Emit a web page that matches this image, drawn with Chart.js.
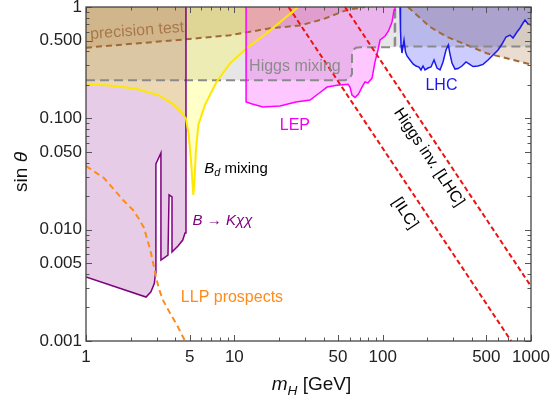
<!DOCTYPE html>
<html>
<head>
<meta charset="utf-8">
<script src="https://cdn.jsdelivr.net/npm/chart.js@4.4.1/dist/chart.umd.min.js"></script>
<style>
  html, body { margin: 0; padding: 0; background: #fff; }
</style>
</head>
<body>
<canvas id="chart" width="552" height="401"></canvas>
<script>
// axis ticks
const xTicks = [1, 5, 10, 50, 100, 500, 1000];
const xTickLabels = ['1', '5', '10', '50', '100', '500', '1000'];
const yTicks = [0.001, 0.005, 0.01, 0.05, 0.1, 0.5, 1];
const yTickLabels = ['0.001', '0.005', '0.010', '0.050', '0.100', '0.500', '1'];

// boundaries as [m_H (GeV), sin theta]
const bkxxBound = [[1, 0.00376], [2.54, 0.00248], [2.74, 0.00277], [2.89, 0.0033], [2.94, 0.00408],
  [2.96, 0.0389], [3.2, 0.0489], [3.2, 0.00534], [3.57, 0.00592], [3.63, 0.0205], [3.8, 0.0197],
  [3.8, 0.0063], [4.17, 0.00713], [4.49, 0.00807], [4.65, 0.00933], [4.72, 0.01056], [4.72, 1]];

const bdMixBound = [[1, 0.202], [1.45, 0.197], [2.17, 0.1846], [3.1, 0.161], [3.84, 0.135], [4.37, 0.114],
  [4.72, 0.0993], [4.91, 0.0738], [5.1, 0.0422], [5.22, 0.0268], [5.29, 0.0205], [5.39, 0.0279],
  [5.51, 0.0519], [5.72, 0.0871], [6.34, 0.132], [7.6, 0.213], [9.35, 0.312], [12.1, 0.426],
  [16.5, 0.58], [22.5, 0.818], [26.9, 1]];

const lepBound = [[12.0, 1], [12.0, 0.14], [13.2, 0.1345], [15.6, 0.1264], [20.3, 0.129], [26.0, 0.14],
  [32.4, 0.146], [37.8, 0.1706], [42.2, 0.191], [49.2, 0.198], [58.4, 0.202], [60.2, 0.191],
  [62.1, 0.162], [65.1, 0.154], [68.7, 0.1655], [72.5, 0.191], [76.0, 0.212], [79.6, 0.2077],
  [84.8, 0.23], [88.8, 0.321], [93.0, 0.411], [96.0, 0.505], [103.9, 0.549], [109.4, 0.609],
  [115.6, 0.733], [119.3, 0.94], [121.1, 1]];

const lhcBound = [[130.9, 1], [131.9, 0.621], [133.0, 0.456], [135.0, 0.386], [139.3, 0.505],
  [142.6, 0.394], [145.9, 0.363], [152.9, 0.334], [160.2, 0.308], [167.8, 0.295], [175.8, 0.289],
  [181.3, 0.272], [187.1, 0.295], [193.0, 0.272], [202.2, 0.283], [211.8, 0.289], [221.9, 0.334],
  [232.5, 0.283], [243.6, 0.272], [255.2, 0.321], [267.3, 0.411], [277.0, 0.456], [284.4, 0.378],
  [293.4, 0.314], [307.4, 0.277], [322.1, 0.28], [342.7, 0.295], [364.6, 0.321], [382.1, 0.308],
  [406.5, 0.292], [439.3, 0.295], [474.9, 0.305], [513.3, 0.334], [554.6, 0.371], [599.4, 0.411],
  [637.7, 0.465], [678.4, 0.538], [722.0, 0.56], [756.4, 0.527], [804.7, 0.596], [843.2, 0.648],
  [883.4, 0.718], [911.3, 0.764], [954.6, 0.704], [1000, 0.689]];

const mixingBound = [[1, 0.2197], [55.7, 0.2197], [59.5, 0.226], [62.1, 0.25], [62.1, 0.378],
  [63.5, 0.415], [66.1, 0.43], [70.4, 0.435], [120.5, 0.435], [120.5, 1], [121.5, 1],
  [121.5, 0.442], [1000, 0.442]];

const precisionLeft = [[1, 0.431], [4.72, 0.513], [9.35, 0.557], [17.4, 0.644], [27.7, 0.682],
  [40, 0.78], [57.2, 0.94], [76, 1]];
const precisionRight = [[148, 1], [208, 0.665], [270, 0.541], [369, 0.456], [503, 0.384],
  [686, 0.346], [1000, 0.305]];

const llpProspects = [[1, 0.0373], [1.322, 0.0291], [1.776, 0.01847], [2.074, 0.01502], [2.277, 0.01246],
  [2.461, 0.01035], [2.597, 0.00807], [2.743, 0.00617], [2.873, 0.00462], [2.988, 0.0036],
  [3.106, 0.00293], [3.304, 0.00233], [3.684, 0.00178], [4.107, 0.00139], [4.651, 0.001]];

const ilcInvisible = [[23.2, 1], [735, 0.001]];
const lhcInvisible = [[55.7, 1], [1000, 0.0031]];

// text labels anchored at [m_H, sin theta]
const FONT = "'Liberation Sans', Arial, sans-serif";
const labels = [
  {runs: [{t: 'precision test'}], at: [2.21, 0.609], color: '#a8784a', rot: -4.3, size: 16},
  {runs: [{t: 'Higgs mixing'}], at: [25.6, 0.292], color: '#8c8c8c', rot: 0, size: 16},
  {runs: [{t: 'LEP'}], at: [25.6, 0.0853], color: '#f000f0', rot: 0, size: 16},
  {runs: [{t: 'LHC'}], at: [249, 0.195], color: '#1a1af0', rot: 0, size: 16},
  {runs: [{t: 'B', it: true}, {t: 'd', it: true, sub: true}, {t: ' mixing'}], at: [10.26, 0.0354], color: '#000', rot: 0, size: 15},
  {runs: [{t: 'B', it: true}, {t: ' \u2192 '}, {t: 'K\u03c7\u03c7', it: true}], at: [8.32, 0.01196], color: '#800080', rot: 0, size: 15},
  {runs: [{t: 'LLP prospects'}], at: [9.64, 0.00246], color: '#ff8c1a', rot: 0, size: 16},
  {runs: [{t: 'Higgs inv. [LHC]'}], at: [205, 0.0445], color: '#000', rot: 56.3, size: 16},
  {runs: [{t: '[ILC]'}], at: [141.5, 0.01402], color: '#000', rot: 56.3, size: 16}
];

const pts = a => a.map(p => ({x: p[0], y: p[1]}));

function drawRuns(ctx, runs, size) {
  let w = 0;
  const fonts = runs.map(r => {
    const sz = r.sub ? size * 0.72 : size;
    const f = (r.it ? 'italic ' : '') + sz + 'px ' + FONT;
    ctx.font = f;
    const rw = ctx.measureText(r.t).width;
    w += rw;
    return {f, rw};
  });
  let x = -w / 2;
  runs.forEach((r, i) => {
    ctx.font = fonts[i].f;
    ctx.fillText(r.t, x, r.sub ? size * 0.32 : 0);
    x += fonts[i].rw;
  });
}

// inward frame ticks like the original
const frameTicks = {
  id: 'frameTicks',
  afterDatasetsDraw(chart) {
    const {ctx, chartArea: a, scales: {x, y}} = chart;
    ctx.save();
    ctx.strokeStyle = '#555';
    ctx.lineWidth = 1;
    ctx.beginPath();
    for (let d = 1; d < 1000; d *= 10) {
      for (let k = 1; k <= 10; k++) {
        const v = d * k;
        const px = Math.round(x.getPixelForValue(v)) + 0.5;
        const len = xTicks.includes(v) ? 6 : 3.5;
        ctx.moveTo(px, a.bottom); ctx.lineTo(px, a.bottom - len);
        ctx.moveTo(px, a.top); ctx.lineTo(px, a.top + len);
      }
    }
    for (let d = 0.001; d < 0.9; d *= 10) {
      for (let k = 1; k <= 10; k++) {
        const v = +(d * k).toPrecision(3);
        const py = Math.round(y.getPixelForValue(v)) + 0.5;
        const len = yTicks.includes(v) ? 6 : 3.5;
        ctx.moveTo(a.left, py); ctx.lineTo(a.left + len, py);
        ctx.moveTo(a.right, py); ctx.lineTo(a.right - len, py);
      }
    }
    ctx.stroke();
    ctx.lineWidth = 1.3;
    ctx.strokeStyle = '#444';
    ctx.strokeRect(a.left, a.top, a.right - a.left, a.bottom - a.top);
    ctx.restore();
  },
  afterDraw(chart) {
    const {ctx, chartArea: a, scales: {x, y}} = chart;
    ctx.save();
    ctx.textBaseline = 'middle';
    labels.forEach(l => {
      ctx.save();
      ctx.translate(x.getPixelForValue(l.at[0]), y.getPixelForValue(l.at[1]));
      ctx.rotate(l.rot * Math.PI / 180);
      ctx.fillStyle = l.color;
      drawRuns(ctx, l.runs, l.size);
      ctx.restore();
    });
    // axis titles
    ctx.fillStyle = '#111';
    ctx.save();
    ctx.translate((a.left + a.right) / 2 + 3, a.bottom + 44);
    drawRuns(ctx, [{t: 'm', it: true}, {t: 'H', it: true, sub: true}, {t: ' [GeV]'}], 19);
    ctx.restore();
    ctx.save();
    ctx.translate(22, (a.top + a.bottom) / 2 - 2);
    ctx.rotate(-Math.PI / 2);
    drawRuns(ctx, [{t: 'sin '}, {t: '\u03b8', it: true}], 19);
    ctx.restore();
    ctx.restore();
  }
};

const base = {pointRadius: 0, borderWidth: 1.5, tension: 0, fill: false};

new Chart(document.getElementById('chart').getContext('2d'), {
  type: 'line',
  data: {
    datasets: [
      {...base, data: pts(ilcInvisible), borderColor: '#ee1111', borderWidth: 2, borderDash: [5, 3]},
      {...base, data: pts(lhcInvisible), borderColor: '#ee1111', borderWidth: 2, borderDash: [5, 3]},
      {...base, data: pts(llpProspects), borderColor: '#ff8c1a', borderWidth: 2, borderDash: [6, 4]},
      {...base, data: pts(lhcBound), borderColor: '#1a1af0', fill: 'end', backgroundColor: 'rgba(0,0,255,0.2)'},
      {...base, data: pts(lepBound), borderColor: '#ff00ff', fill: 'end', backgroundColor: 'rgba(255,0,255,0.22)'},
      {...base, data: pts(bdMixBound), borderColor: '#ffe800', borderWidth: 2, fill: 'end', backgroundColor: 'rgba(255,255,0,0.22)'},
      {...base, data: pts(bkxxBound), borderColor: '#800080', fill: 'end', backgroundColor: 'rgba(128,0,128,0.2)'},
      {...base, data: pts(mixingBound), borderColor: '#8a8a8a', borderWidth: 2, borderDash: [9, 5], fill: 'end', backgroundColor: 'rgba(128,128,128,0.2)'},
      {...base, data: pts(precisionLeft), borderColor: '#a06a35', borderWidth: 2, borderDash: [6, 4], fill: 'end', backgroundColor: 'rgba(160,100,40,0.22)'},
      {...base, data: pts(precisionRight), borderColor: '#a06a35', borderWidth: 2, borderDash: [6, 4], fill: 'end', backgroundColor: 'rgba(160,100,40,0.22)'}
    ]
  },
  options: {
    responsive: false,
    animation: false,
    layout: {padding: {top: 7, right: 21, left: 0, bottom: 0}},
    plugins: {
      legend: {display: false},
      tooltip: {enabled: false},
      filler: {drawTime: 'beforeDatasetsDraw'}
    },
    scales: {
      x: {
        type: 'logarithmic', min: 1, max: 1000,
        grid: {display: false, drawTicks: false},
        border: {display: false},
        afterBuildTicks: s => { s.ticks = xTicks.map(v => ({value: v})); },
        afterFit: s => { s.height = 60; s.paddingLeft = 0; s.paddingRight = 0; },
        ticks: {
          autoSkip: false, maxRotation: 0, padding: 6, color: '#222',
          font: {family: FONT, size: 17},
          callback: (v, i) => xTickLabels[i]
        }
      },
      y: {
        type: 'logarithmic', min: 0.001, max: 1,
        grid: {display: false, drawTicks: false},
        border: {display: false},
        afterBuildTicks: s => { s.ticks = yTicks.map(v => ({value: v})); },
        afterFit: s => { s.width = 86; s.paddingTop = 0; s.paddingBottom = 0; },
        ticks: {
          autoSkip: false, padding: 4, color: '#222',
          font: {family: FONT, size: 17},
          callback: (v, i) => yTickLabels[i]
        }
      }
    }
  },
  plugins: [frameTicks]
});
</script>
</body>
</html>
